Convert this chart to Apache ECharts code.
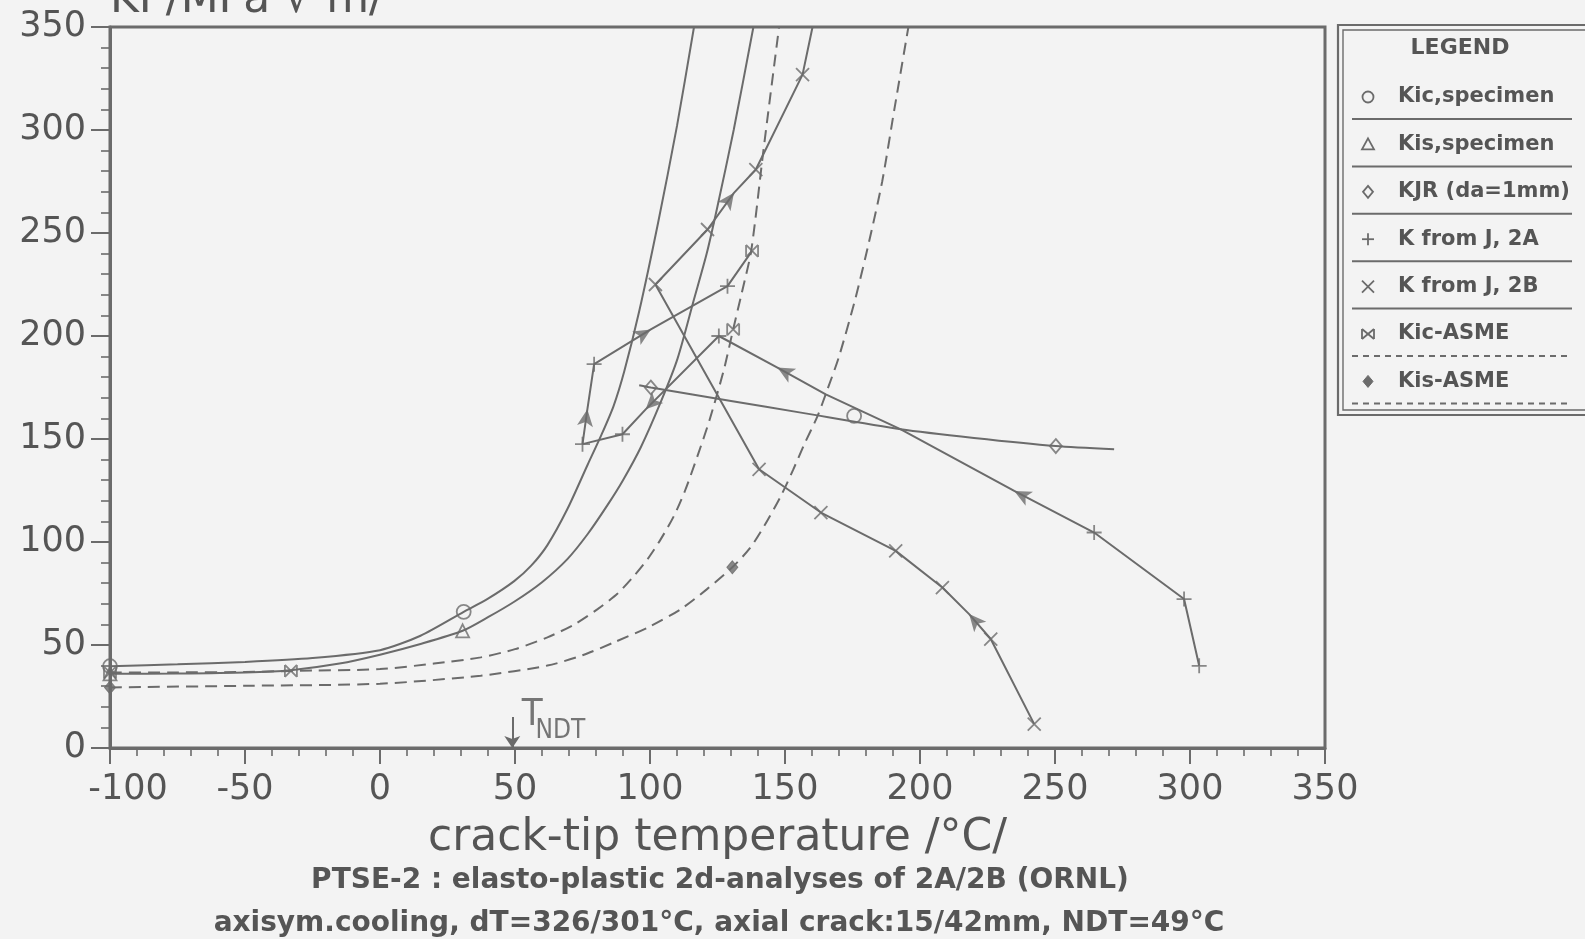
<!DOCTYPE html>
<html>
<head>
<meta charset="utf-8">
<script src="https://cdn.jsdelivr.net/npm/echarts@6/dist/echarts.min.js"></script>
<style>
html,body{margin:0;padding:0;background:#f3f3f3;}
#c{width:1585px;height:939px;}
</style>
</head>
<body>
<div id="c"></div>
<script>
// ---------------- data ----------------
const xTickLabels = ['-100','-50','0','50','100','150','200','250','300','350'];
const yTickLabels = ['0','50','100','150','200','250','300','350'];

// fracture toughness curves [T degC, K MPa sqrt(m)]
const kicSpecimenCurve = [[-100,39.7],[-75,40.6],[-50,41.8],[-25,43.7],[0,47.5],[15,54.5],[31,66.1],[40,72.5],[49.7,81],[56,88.5],[62,98.5],[69.4,116],[76.9,137.5],[82,152],[86.5,166],[90.5,183],[96,212],[103,255],[110,302],[116.3,350]];
const kisSpecimenCurve = [[-100,36],[-75,36.2],[-50,36.7],[-33,37.8],[-15,41],[0,45.3],[15,50.5],[30.6,56.9],[40,63.5],[49.7,71],[60,80.5],[69.4,91.7],[77,104],[84.3,118],[90,130],[96.6,146],[104,168],[110.2,189],[116.3,217.8],[121,240],[125,263],[131,300],[138.3,350]];
const kicAsmeCurve = [[-100,36.6],[-75,36.7],[-50,36.9],[-33,37.4],[0,38.3],[20,41],[37.3,44],[50,48],[62,53.7],[72,60],[80.6,67.4],[88,75],[94.1,83.6],[99.1,91.7],[104,101.4],[108.9,112.7],[113,125],[117.6,141.8],[122,159],[127.4,183.8],[130.8,203.2],[134,221],[137.5,241.5],[142,290],[147.8,350]];
const kisAsmeCurve = [[-100,29.4],[-50,30.2],[0,31.2],[37.3,35.1],[62,40],[75,45],[86.7,51.3],[100,59],[111.4,67.4],[121,77],[130.5,87.7],[137,97],[142.3,107.8],[148.5,122.4],[153,135],[157,147],[162,161],[165.7,174],[170,190],[176,217.8],[181,245],[186,275],[190.5,310],[195.7,350]];
const kjrCurve = [[96,176.1],[100.3,175],[130,168.5],[155.9,162.8],[192.9,154.7],[220,150.5],[250.3,146.6],[271.9,145]];

// loading paths
const path2A = [[303.4,39.9],[297.8,72.3],[264.5,104.6],[234.9,124.8],[192.9,154.7],[165.1,171.7],[147.2,184.7],[125.5,200],[98.4,164.4],[89.8,152.3],[75,147.5],[76.8,164.4],[79.3,186.3],[100.3,203.2],[128.7,224.2],[137.8,241.3]];
const path2B = [[242.3,11.6],[226.2,52.9],[218.2,65],[208.3,77.9],[191,95.7],[163.3,114.3],[140.4,135.3],[102,225],[121.3,251.7],[131.1,269.5],[139.2,280.8],[156.5,326.9],[160.2,350]];

// marker positions
const kicSpecimenPts = [[-100,39.7],[31,66.1],[175.6,161.2]];
const kisSpecimenPts = [[-100,36],[30.6,56.9]];
const kjrPts = [[100.3,175],[250.3,146.6]];
const plus2APts = [[303.4,39.9],[297.8,72.3],[264.5,104.6],[125.5,200],[89.8,152.3],[75,147.5],[79.3,186.3],[128.7,224.2]];
const cross2BPts = [[242.3,11.6],[226.2,52.9],[208.3,77.9],[191,95.7],[163.3,114.3],[140.4,135.3],[102,225],[121.3,251.7],[139.2,280.8],[156.5,326.9]];
const kicAsmePts = [[-100,36.6],[-33,37.4],[130.8,203.2],[137.8,241.3]];
const kisAsmePts = [[-100,29.4],[130.5,87.7]];
const arrows2A = [[234.9,124.8],[147.2,184.7],[98.4,164.4],[76.8,164.4],[100.3,203.2]];
const arrows2B = [[218.2,65],[131.1,269.5]];

const tNDT = 49;
const tNDTArrow = [[tNDT,15],[tNDT,0]];

const legendLabels = ['Kic,specimen','Kis,specimen','KJR (da=1mm)','K from J, 2A','K from J, 2B','Kic-ASME','Kis-ASME'];
const legendSymbols = ['circle','triangle','diamond','plus','cross','bowtie','filledDiamond'];
const legendDashed = [false,false,false,false,false,true,true];

const yTitle = 'KI /MPa \u221A m/';
const xTitle = 'crack-tip temperature /\u00B0C/';
const subTitle1 = 'PTSE-2 : elasto-plastic 2d-analyses of 2A/2B (ORNL)';
const subTitle2 = 'axisym.cooling, dT=326/301\u00B0C, axial crack:15/42mm, NDT=49\u00B0C';

// ---------------- style ----------------
const LINE = '#6b6b6b';
const TEXT = '#555555';
const BG = '#f3f3f3';
const FONT = '"DejaVu Sans", "Liberation Sans", sans-serif';
const DASH = [12, 7];

const SYM = {
  circle: 'circle',
  triangle: 'triangle',
  diamond: 'diamond',
  filledDiamond: 'diamond',
  plus: 'path://M5,0L5,10M0,5L10,5',
  cross: 'path://M0,0L10,10M0,10L10,0',
  bowtie: 'path://M0,0L10,10M0,10L10,0M0,0L0,10M10,0L10,10'
};

function lineSeries(name, data, dashed, smooth) {
  return {
    type: 'line', name: name, data: data, showSymbol: false, symbol: 'none',
    smooth: smooth ? 0.25 : false, silent: true, z: 3,
    lineStyle: { color: LINE, width: 2, type: dashed ? DASH : 'solid' }
  };
}
function markerSeries(name, data, sym, size, filled) {
  return {
    type: 'scatter', name: name, data: data, symbol: SYM[sym], symbolSize: size,
    clip: false, silent: true, z: 5,
    itemStyle: filled ? { color: LINE, borderColor: LINE, borderWidth: 1 }
                      : { color: 'rgba(0,0,0,0)', borderColor: LINE, borderWidth: 1.8 }
  };
}

// ---------------- legend (drawn as graphic) ----------------
function legendSymbol(kind, cx, cy) {
  const st = { fill: 'none', stroke: LINE, lineWidth: 1.8 };
  const s = 6;
  switch (kind) {
    case 'circle': return [{ type: 'circle', shape: { cx: cx, cy: cy, r: 5.5 }, style: st, z: 12 }];
    case 'triangle': return [{ type: 'polygon', shape: { points: [[cx, cy - s], [cx + s, cy + s - 1], [cx - s, cy + s - 1]] }, style: st, z: 12 }];
    case 'diamond': return [{ type: 'polygon', shape: { points: [[cx, cy - s], [cx + s - 1, cy], [cx, cy + s], [cx - s + 1, cy]] }, style: st, z: 12 }];
    case 'filledDiamond': return [{ type: 'polygon', shape: { points: [[cx, cy - s], [cx + s - 1, cy], [cx, cy + s], [cx - s + 1, cy]] }, style: { fill: LINE, stroke: LINE, lineWidth: 1 }, z: 12 }];
    case 'plus': return [
      { type: 'line', shape: { x1: cx - s, y1: cy, x2: cx + s, y2: cy }, style: st, z: 12 },
      { type: 'line', shape: { x1: cx, y1: cy - s, x2: cx, y2: cy + s }, style: st, z: 12 }];
    case 'cross': return [
      { type: 'line', shape: { x1: cx - s, y1: cy - s, x2: cx + s, y2: cy + s }, style: st, z: 12 },
      { type: 'line', shape: { x1: cx - s, y1: cy + s, x2: cx + s, y2: cy - s }, style: st, z: 12 }];
    case 'bowtie': return [
      { type: 'line', shape: { x1: cx - s, y1: cy - s + 1, x2: cx + s, y2: cy + s - 1 }, style: st, z: 12 },
      { type: 'line', shape: { x1: cx - s, y1: cy + s - 1, x2: cx + s, y2: cy - s + 1 }, style: st, z: 12 },
      { type: 'line', shape: { x1: cx - s, y1: cy - s + 1, x2: cx - s, y2: cy + s - 1 }, style: st, z: 12 },
      { type: 'line', shape: { x1: cx + s, y1: cy - s + 1, x2: cx + s, y2: cy + s - 1 }, style: st, z: 12 }];
  }
  return [];
}

const LG = { x: 1338, y: 25, w: 320, h: 390, firstRow: 97, gap: 47.4, symX: 1368, textX: 1398, sepX1: 1352, sepX2: 1572 };
const graphics = [];
graphics.push({ type: 'rect', shape: { x: LG.x, y: LG.y, width: LG.w, height: LG.h }, style: { fill: BG, stroke: LINE, lineWidth: 2.2 }, z: 10 });
graphics.push({ type: 'rect', shape: { x: LG.x + 5, y: LG.y + 5, width: LG.w, height: LG.h - 10 }, style: { fill: 'none', stroke: LINE, lineWidth: 1.4 }, z: 11 });
graphics.push({ type: 'text', x: 1460, y: 48, style: { text: 'LEGEND', font: 'bold 22px ' + FONT, fill: TEXT, textAlign: 'center', textVerticalAlign: 'middle', align: 'center', verticalAlign: 'middle' }, z: 12 });
legendLabels.forEach(function (lab, i) {
  const cy = LG.firstRow + i * LG.gap;
  legendSymbol(legendSymbols[i], LG.symX, cy).forEach(function (g) { graphics.push(g); });
  graphics.push({ type: 'text', x: LG.textX, y: cy, style: { text: lab, font: 'bold 21px ' + FONT, fill: TEXT, textAlign: 'left', textVerticalAlign: 'middle', align: 'left', verticalAlign: 'middle' }, z: 12 });
  graphics.push({ type: 'line', shape: { x1: LG.sepX1, y1: cy + 22, x2: LG.sepX2, y2: cy + 22 }, style: { stroke: LINE, lineWidth: 2, lineDash: legendDashed[i] ? [6, 5] : null }, z: 12 });
});
// titles
graphics.push({ type: 'text', x: 110, y: 23, style: { text: yTitle, font: '44px ' + FONT, fill: TEXT, textAlign: 'left', textVerticalAlign: 'bottom', align: 'left', verticalAlign: 'bottom' }, z: 12 });
graphics.push({ type: 'text', x: 720, y: 881, style: { text: subTitle1, font: 'bold 28px ' + FONT, fill: TEXT, textAlign: 'center', textVerticalAlign: 'middle', align: 'center', verticalAlign: 'middle' }, z: 12 });
graphics.push({ type: 'text', x: 719, y: 924, style: { text: subTitle2, font: 'bold 28px ' + FONT, fill: TEXT, textAlign: 'center', textVerticalAlign: 'middle', align: 'center', verticalAlign: 'middle' }, z: 12 });

// ---------------- chart ----------------
const XMIN = -100, XMAX = 350, XINT = 50, YMIN = 0, YMAX = 350, YINT = 50;
const axisCommon = {
  axisLine: { show: true, onZero: false, lineStyle: { color: LINE, width: 3 } },
  axisTick: { show: true, inside: false, lineStyle: { color: LINE, width: 2 } },
  minorTick: { show: true, splitNumber: 5, lineStyle: { color: LINE, width: 1.6 } },
  splitLine: { show: false },
  minorSplitLine: { show: false }
};

const option = {
  backgroundColor: BG,
  animation: false,
  grid: { left: 110, right: 260, top: 27, bottom: 191, show: true, borderColor: LINE, borderWidth: 3, backgroundColor: 'transparent', containLabel: false, outerBoundsMode: 'none' },
  xAxis: Object.assign({}, axisCommon, {
    type: 'value', min: XMIN, max: XMAX, interval: XINT,
    axisTick: Object.assign({}, axisCommon.axisTick, { length: 16 }),
    minorTick: Object.assign({}, axisCommon.minorTick, { length: 8 }),
    axisLabel: { margin: 24, fontSize: 35, fontFamily: FONT, color: TEXT, showMinLabel: true, showMaxLabel: true,
      formatter: function (v) {
        const i = Math.round((v - XMIN) / XINT);
        return i === 0 ? '{first|' + xTickLabels[i] + '}' : xTickLabels[i];
      },
      rich: { first: { fontSize: 35, fontFamily: FONT, color: TEXT, padding: [0, 0, 0, 36] } } },
    name: xTitle, nameLocation: 'middle', nameGap: 69,
    nameTextStyle: { fontSize: 44, fontFamily: FONT, color: TEXT }
  }),
  yAxis: Object.assign({}, axisCommon, {
    type: 'value', min: YMIN, max: YMAX, interval: YINT,
    axisTick: Object.assign({}, axisCommon.axisTick, { length: 19 }),
    minorTick: Object.assign({}, axisCommon.minorTick, { length: 9 }),
    axisLabel: { margin: 24, fontSize: 35, fontFamily: FONT, color: TEXT, showMinLabel: true, showMaxLabel: true,
      formatter: function (v) { return yTickLabels[Math.round((v - YMIN) / YINT)]; } }
  }),
  graphic: { elements: graphics },
  series: [
    lineSeries('Kic,specimen', kicSpecimenCurve, false, true),
    lineSeries('Kis,specimen', kisSpecimenCurve, false, true),
    lineSeries('Kic-ASME', kicAsmeCurve, true, true),
    lineSeries('Kis-ASME', kisAsmeCurve, true, true),
    lineSeries('KJR (da=1mm)', kjrCurve, false, true),
    lineSeries('K from J, 2A', path2A, false, false),
    lineSeries('K from J, 2B', path2B, false, false),
    markerSeries('Kic,specimen pts', kicSpecimenPts, 'circle', 14, false),
    markerSeries('Kis,specimen pts', kisSpecimenPts, 'triangle', 13, false),
    markerSeries('KJR pts', kjrPts, 'diamond', [12, 14], false),
    markerSeries('2A pts', plus2APts, 'plus', 15, false),
    markerSeries('2B pts', cross2BPts, 'cross', 13, false),
    markerSeries('Kic-ASME pts', kicAsmePts, 'bowtie', 12, false),
    markerSeries('Kis-ASME pts', kisAsmePts, 'filledDiamond', [11, 13], true),
    {
      type: 'scatter', name: 'TNDT', silent: true, z: 6, clip: false,
      symbolSize: 0,
      data: [
        { value: tNDTArrow[0], label: { show: true, formatter: 'T', fontSize: 38, fontFamily: '"DejaVu Sans Condensed", ' + FONT, color: TEXT, position: 'inside', offset: [20, -2] } },
        { value: tNDTArrow[0], label: { show: true, formatter: 'NDT', fontSize: 26, fontFamily: '"DejaVu Sans Condensed", ' + FONT, color: TEXT, position: 'inside', offset: [48, 14] } }
      ],
      markLine: {
        silent: true, symbol: ['none', 'arrow'], symbolSize: 12, animation: false,
        label: { show: false },
        lineStyle: { color: LINE, width: 2, type: 'solid' },
        data: [[{ coord: tNDTArrow[0] }, { coord: tNDTArrow[1] }]]
      }
    }
  ]
};

const chart = echarts.init(document.getElementById('c'), null, { renderer: 'canvas' });
chart.setOption(option);

// arrowheads oriented along the direction of travel of each path
function distSeg(q, a, b) {
  const vx = b[0] - a[0], vy = b[1] - a[1];
  const L = vx * vx + vy * vy || 1;
  let t = ((q[0] - a[0]) * vx + (q[1] - a[1]) * vy) / L;
  t = Math.max(0, Math.min(1, t));
  const px = a[0] + t * vx - q[0], py = a[1] + t * vy - q[1];
  return Math.sqrt(px * px + py * py);
}
function arrowData(path, pts) {
  const pix = path.map(function (p) { return chart.convertToPixel({ gridIndex: 0 }, p); });
  return pts.map(function (p) {
    const q = chart.convertToPixel({ gridIndex: 0 }, p);
    let best = 0, bd = Infinity;
    for (let i = 0; i < pix.length - 1; i++) {
      const d = distSeg(q, pix[i], pix[i + 1]);
      if (d < bd) { bd = d; best = i; }
    }
    const dx = pix[best + 1][0] - pix[best][0], dy = pix[best + 1][1] - pix[best][1];
    return { value: p, symbolRotate: Math.atan2(-dx, -dy) * 180 / Math.PI };
  });
}
const arrowStyle = { type: 'scatter', symbol: 'arrow', symbolSize: [12, 17], silent: true, clip: false, z: 6, itemStyle: { color: LINE } };
const opt2 = chart.getOption();
const series = opt2.series;
series.push(Object.assign({ name: '2A arrows', data: arrowData(path2A, arrows2A) }, arrowStyle));
series.push(Object.assign({ name: '2B arrows', data: arrowData(path2B, arrows2B) }, arrowStyle));
chart.setOption({ series: series });
</script>
</body>
</html>
